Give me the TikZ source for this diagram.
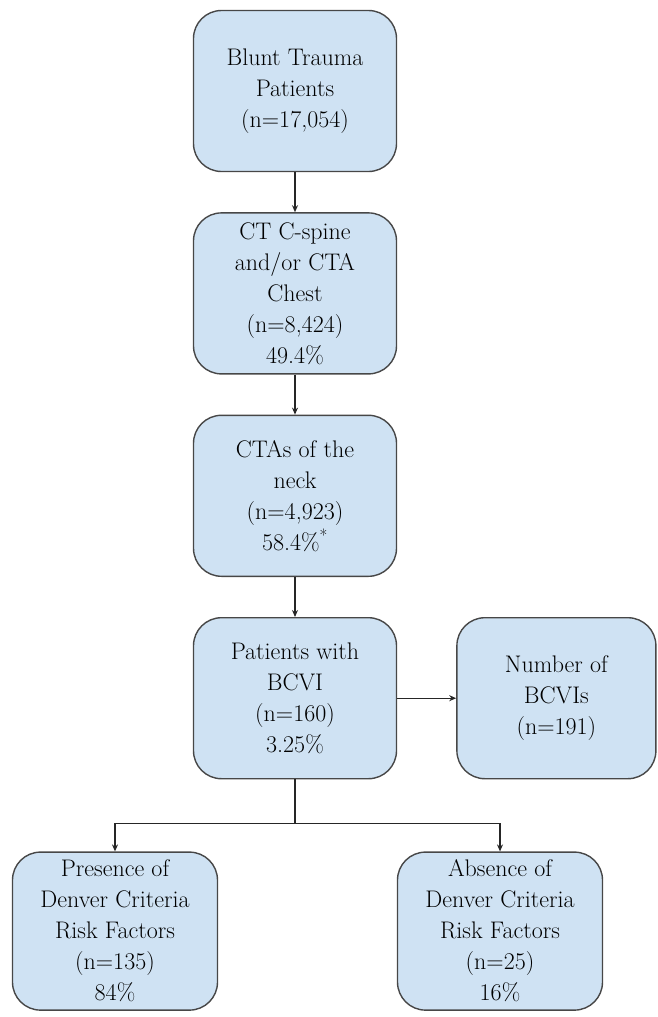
\documentclass[tikz,border=0pt]{standalone}
\usepackage{fontspec}
\usetikzlibrary{positioning}
\usetikzlibrary{arrows.meta}
\definecolor{boxfill}{HTML}{CFE2F3}
\definecolor{boxline}{HTML}{474747}

\begin{document}
\begin{tikzpicture}[x=1pt,y=-1pt,node distance=40pt,
	every node/.style={font=\fontsize{24}{31}\selectfont},
	box/.style={draw=boxline,line width=1.4pt,fill=boxfill,rounded corners=28pt,
		minimum width=203pt,minimum height=161pt,align=center,inner sep=0pt,text=black},
	link/.style={-{Stealth[length=7pt,width=6pt]},line width=1.2pt,draw=black!85}]
	\useasboundingbox (0,0) rectangle (658,1017);
	\node[box] (blunt) at (295,91) {Blunt Trauma\\Patients\\(n=17,054)};
	\node[box] (ct) [below=of blunt] {CT C-spine\\and/or CTA\\Chest\\(n=8,424)\\49.4\%};
	\node[box] (neck) [below=of ct] {CTAs of the\\neck\\(n=4,923)\\58.4\%\textsuperscript{*}};
	\node[box] (patients) [below=of neck] {Patients with\\BCVI\\(n=160)\\3.25\%};
	\node[box,minimum width=199pt] (number) [right=59pt of patients] {Number of\\BCVIs\\(n=191)};
	\node[box,minimum width=205pt,minimum height=158pt] (presence) [below=72pt of patients,xshift=-180pt]
		{Presence of\\Denver Criteria\\Risk Factors\\(n=135)\\84\%};
	\node[box,minimum width=205pt,minimum height=158pt] (absence) [below=72pt of patients,xshift=205pt]
		{Absence of\\Denver Criteria\\Risk Factors\\(n=25)\\16\%};
	\coordinate[below=44pt of patients] (split);
	\draw[link] (blunt) -- (ct);
	\draw[link] (ct) -- (neck);
	\draw[link] (neck) -- (patients);
	\draw[link] (patients) -- (number);
	\draw[line width=1.2pt,draw=black!85] (patients) -- (split);
	\draw[link] (split) -| (presence);
	\draw[link] (split) -| (absence);
\end{tikzpicture}
\end{document}
